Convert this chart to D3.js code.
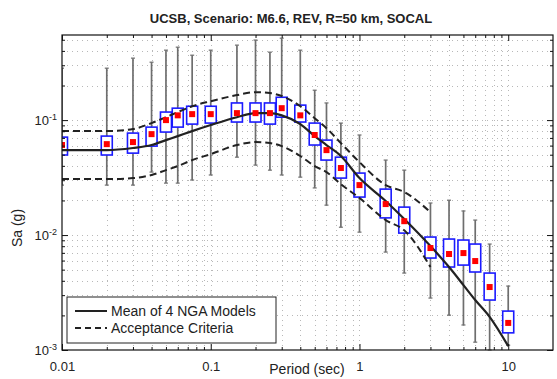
<!DOCTYPE html>
<html>
<head>
<meta charset="utf-8">
<script src="https://cdn.jsdelivr.net/npm/d3@7"></script>
<style>
  body { margin: 0; background: #fff; }
  text { font-family: Arial, "Liberation Sans", Helvetica, sans-serif; fill: #222; }
</style>
</head>
<body>
<svg id="chart" width="557" height="379"></svg>
<script>
// spectral periods (sec)
const periods = [0.01, 0.02, 0.03, 0.04, 0.05, 0.06, 0.075, 0.1, 0.15, 0.2, 0.25, 0.3, 0.4,
                 0.5, 0.6, 0.75, 1, 1.5, 2, 3, 4, 5, 6, 7.5, 10];

// simulated records: median, box (25-75%), whiskers (g)
const median = [0.0607, 0.0618, 0.0644, 0.0755, 0.1, 0.110, 0.1127, 0.1127, 0.115, 0.115, 0.115, 0.127, 0.110,
                0.0742, 0.0548, 0.0383, 0.0272, 0.0186, 0.0132, 0.00771, 0.00684, 0.00697, 0.00594, 0.00353, 0.00172];
const boxHigh = [0.0711, 0.0726, 0.0771, 0.0869, 0.1175, 0.127, 0.132, 0.132, 0.141, 0.141, 0.141, 0.158, 0.135,
                 0.0942, 0.067, 0.0476, 0.0346, 0.0251, 0.0175, 0.00961, 0.00923, 0.00905, 0.00835, 0.00467, 0.00218];
const boxLow = [0.0497, 0.0497, 0.0516, 0.0594, 0.0787, 0.0869, 0.0923, 0.0942, 0.0962, 0.0962, 0.0923, 0.106, 0.0962,
                0.0607, 0.0449, 0.0313, 0.0214, 0.0141, 0.0104, 0.00631, 0.00527, 0.00548, 0.00477, 0.00272, 0.00141];
const whiskerHigh = [0.283, 0.283, 0.346, 0.319, 0.406, 0.431, 0.367, 0.406, 0.449, 0.497, 0.390, 0.516, 0.406,
                     0.182, 0.141, 0.0942, 0.0742, 0.0449, 0.0367, 0.0190, 0.0201, 0.0162, 0.0135, 0.00835, 0.00360];
const whiskerLow = [0.0272, 0.0272, 0.0272, 0.0353, 0.0283, 0.0283, 0.0301, 0.0333, 0.0476, 0.0406, 0.0367, 0.0333, 0.0319,
                    0.0257, 0.0182, 0.0117, 0.0106, 0.00711, 0.00467, 0.00283, 0.00201, 0.00165, 0.00117, 0.001, 0.00110];

// mean of 4 NGA models
const ngaMean = [0.0548, 0.0548, 0.0572, 0.0607, 0.067, 0.0726, 0.0802, 0.0906, 0.106, 0.115, 0.115, 0.110, 0.0923,
                 0.0726, 0.0607, 0.0487, 0.0313, 0.0198, 0.0138, 0.00802, 0.00527, 0.00367, 0.00272, 0.00194, 0.00108];

// acceptance criteria, defined from 0.01 to 3 sec
const criteriaPeriods = periods.slice(0, 20);
const criteriaUpper = [0.0802, 0.0802, 0.0836, 0.0942, 0.106, 0.1175, 0.132, 0.146, 0.165, 0.175, 0.172, 0.162, 0.132,
                       0.104, 0.0851, 0.0631, 0.0431, 0.0272, 0.0237, 0.0158];
const criteriaLower = [0.0307, 0.0307, 0.0313, 0.0333, 0.0367, 0.0398, 0.0449, 0.0506, 0.0607, 0.0644, 0.0631, 0.0594, 0.0487,
                       0.0398, 0.0353, 0.0277, 0.0210, 0.0135, 0.0110, 0.00527];

const xTicks = [0.01, 0.1, 1, 10];
const xTickLabels = ["0.01", "0.1", "1", "10"];
const yTicks = [0.001, 0.01, 0.1];
const yTickExps = ["-3", "-2", "-1"];

const plotLeft = 62, plotRight = 553, plotTop = 35, plotBottom = 350;

const svg = d3.select("#chart");

const x = d3.scaleLog().domain([0.01, 20]).range([plotLeft, plotRight]);
const y = d3.scaleLog().domain([0.001, 0.55]).range([plotBottom, plotTop]);

const xMinor = x.ticks().filter(d => d > 0.0101 && d < 19.9);
const yMinor = y.ticks().filter(d => d > 0.00101 && d < 0.549);

// dotted grid
const grid = svg.append("g").attr("stroke", "#b8b8b8").attr("stroke-dasharray", "1,4").attr("stroke-width", 1);
grid.selectAll(".gx").data(xMinor).join("line")
  .attr("x1", d => Math.round(x(d)) + 0.5).attr("x2", d => Math.round(x(d)) + 0.5)
  .attr("y1", plotTop).attr("y2", plotBottom);
grid.selectAll(".gy").data(yMinor).join("line")
  .attr("y1", d => Math.round(y(d)) + 0.5).attr("y2", d => Math.round(y(d)) + 0.5)
  .attr("x1", plotLeft).attr("x2", plotRight);

const rows = periods.map((p, i) => ({
  p, med: median[i], bh: boxHigh[i], bl: boxLow[i], wh: whiskerHigh[i], wl: whiskerLow[i]
}));

const plot = svg.append("g");

// whiskers
plot.selectAll(".whisker").data(rows).join("line")
  .attr("x1", d => x(d.p)).attr("x2", d => x(d.p))
  .attr("y1", d => y(d.wh)).attr("y2", d => y(d.wl))
  .attr("stroke", "#6e6e6e").attr("stroke-width", 1.7);
plot.selectAll(".capTop").data(rows).join("line")
  .attr("x1", d => x(d.p) - 2).attr("x2", d => x(d.p) + 2)
  .attr("y1", d => y(d.wh)).attr("y2", d => y(d.wh))
  .attr("stroke", "#6e6e6e").attr("stroke-width", 1.2);
plot.selectAll(".capBot").data(rows).join("line")
  .attr("x1", d => x(d.p) - 2).attr("x2", d => x(d.p) + 2)
  .attr("y1", d => y(d.wl)).attr("y2", d => y(d.wl))
  .attr("stroke", "#6e6e6e").attr("stroke-width", 1.2);

// boxes
const boxW = 11;
plot.selectAll(".box").data(rows).join("rect")
  .attr("x", d => x(d.p) - boxW / 2)
  .attr("y", d => y(d.bh))
  .attr("width", boxW)
  .attr("height", d => y(d.bl) - y(d.bh))
  .attr("fill", "#fff")
  .attr("stroke", "#1a1aff")
  .attr("stroke-width", 1.6);

// model lines
const line = d3.line().x(d => x(d[0])).y(d => y(d[1])).curve(d3.curveMonotoneX);

plot.append("path")
  .datum(periods.map((p, i) => [p, ngaMean[i]]))
  .attr("d", line)
  .attr("fill", "none").attr("stroke", "#222").attr("stroke-width", 2.2);

[criteriaUpper, criteriaLower].forEach(vals => {
  plot.append("path")
    .datum(criteriaPeriods.map((p, i) => [p, vals[i]]))
    .attr("d", line)
    .attr("fill", "none").attr("stroke", "#222").attr("stroke-width", 2)
    .attr("stroke-dasharray", "7,4");
});

// medians
plot.selectAll(".med").data(rows).join("rect")
  .attr("x", d => x(d.p) - 3)
  .attr("y", d => y(d.med) - 3)
  .attr("width", 6).attr("height", 6)
  .attr("fill", "#ff0000");

// clip anything past the frame
svg.append("rect").attr("x", 0).attr("y", 0).attr("width", plotLeft).attr("height", 379).attr("fill", "#fff");

// axes frame
svg.append("rect")
  .attr("x", plotLeft).attr("y", plotTop).attr("width", plotRight - plotLeft).attr("height", plotBottom - plotTop)
  .attr("fill", "none").attr("stroke", "#111").attr("stroke-width", 1.2);

function tickMarks(g) {
  g.selectAll("path.domain").remove();
  g.selectAll("line").attr("stroke", "#111");
}

const xMinorOnly = xMinor.filter(d => !xTicks.includes(d));
const yMinorOnly = yMinor.filter(d => !yTicks.includes(d));

// x axis: majors with labels, minors short
svg.append("g").attr("transform", `translate(0,${plotBottom})`)
  .call(d3.axisBottom(x).tickValues(xTicks).tickSizeInner(-6).tickSizeOuter(0).tickPadding(12)
    .tickFormat((d, i) => xTickLabels[i]))
  .call(tickMarks)
  .call(g => g.selectAll("text").attr("font-size", 13).attr("fill", "#222").attr("font-family", null));
svg.append("g").attr("transform", `translate(0,${plotBottom})`)
  .call(d3.axisBottom(x).tickValues(xMinorOnly).tickSizeInner(-3).tickSizeOuter(0).tickFormat(""))
  .call(tickMarks);
svg.append("g").attr("transform", `translate(0,${plotTop})`)
  .call(d3.axisTop(x).tickValues(xTicks).tickSizeInner(-6).tickSizeOuter(0).tickFormat(""))
  .call(tickMarks);
svg.append("g").attr("transform", `translate(0,${plotTop})`)
  .call(d3.axisTop(x).tickValues(xMinorOnly).tickSizeInner(-3).tickSizeOuter(0).tickFormat(""))
  .call(tickMarks);

// y axis
const yAxis = svg.append("g").attr("transform", `translate(${plotLeft},0)`)
  .call(d3.axisLeft(y).tickValues(yTicks).tickSizeInner(-6).tickSizeOuter(0).tickPadding(5).tickFormat(""))
  .call(tickMarks);
yAxis.selectAll(".tick text")
  .attr("font-size", 13)
  .attr("font-family", null)
  .each(function(d, i) {
    const t = d3.select(this);
    t.append("tspan").text("10");
    t.append("tspan").attr("dy", "-0.55em").attr("font-size", 9).text(yTickExps[i]);
  });
svg.append("g").attr("transform", `translate(${plotLeft},0)`)
  .call(d3.axisLeft(y).tickValues(yMinorOnly).tickSizeInner(-3).tickSizeOuter(0).tickFormat(""))
  .call(tickMarks);
svg.append("g").attr("transform", `translate(${plotRight},0)`)
  .call(d3.axisRight(y).tickValues(yTicks).tickSizeInner(-6).tickSizeOuter(0).tickFormat(""))
  .call(tickMarks);
svg.append("g").attr("transform", `translate(${plotRight},0)`)
  .call(d3.axisRight(y).tickValues(yMinorOnly).tickSizeInner(-3).tickSizeOuter(0).tickFormat(""))
  .call(tickMarks);

// labels
svg.append("text")
  .attr("x", 291).attr("y", 23)
  .attr("text-anchor", "middle").attr("font-size", 13).attr("font-weight", "bold")
  .text("UCSB, Scenario: M6.6, REV, R=50 km, SOCAL");

svg.append("text")
  .attr("x", 307).attr("y", 374)
  .attr("text-anchor", "middle").attr("font-size", 14)
  .text("Period (sec)");

svg.append("text")
  .attr("transform", "translate(22,228) rotate(-90)")
  .attr("text-anchor", "middle").attr("font-size", 14)
  .text("Sa (g)");

// legend
const legend = svg.append("g");
legend.append("rect")
  .attr("x", 67).attr("y", 297).attr("width", 209).attr("height", 46)
  .attr("fill", "#fff").attr("stroke", "#222").attr("stroke-width", 1);
const legendItems = [
  { label: "Mean of 4 NGA Models", dash: null },
  { label: "Acceptance Criteria", dash: "6,4" }
];
legendItems.forEach((item, i) => {
  const ly = 311 + i * 17;
  legend.append("line")
    .attr("x1", 75).attr("x2", 107).attr("y1", ly).attr("y2", ly)
    .attr("stroke", "#222").attr("stroke-width", 2)
    .attr("stroke-dasharray", item.dash);
  legend.append("text")
    .attr("x", 111).attr("y", ly + 5)
    .attr("font-size", 14)
    .text(item.label);
});
</script>
</body>
</html>
